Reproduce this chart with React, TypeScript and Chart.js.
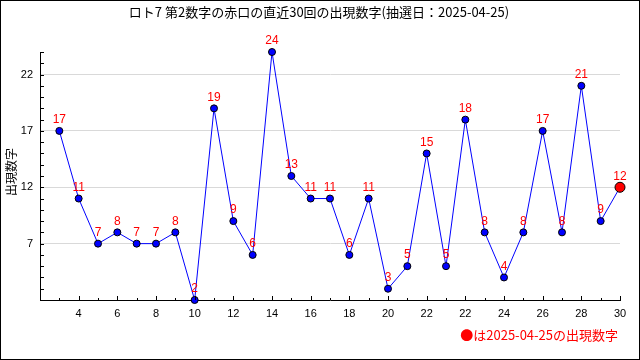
import React, { useEffect, useRef } from "react";
import { Chart, registerables } from "chart.js";

Chart.register(...registerables);

const titleText = "ロト7 第2数字の赤口の直近30回の出現数字(抽選日：2025-04-25)";
const yAxisTitle = "出現数字";
const noteText = "●は2025-04-25の出現数字";
const positions = [1, 2, 3, 4, 5, 6, 7, 8, 9, 10, 11, 12, 13, 14, 15, 16, 17, 18, 19, 20, 21, 22, 23, 24, 25, 26, 27, 28, 29, 30];
const values = [17, 11, 7, 8, 7, 7, 8, 2, 19, 9, 6, 24, 13, 11, 11, 6, 11, 3, 5, 15, 5, 18, 8, 4, 8, 17, 8, 21, 9, 12];
const xTickPositions = [2, 4, 6, 8, 10, 12, 14, 16, 18, 20, 22, 24, 26, 28, 30];
const xTickLabels = ["4", "6", "8", "10", "12", "14", "16", "18", "20", "22", "22", "24", "26", "28", "30"];
const yMajorTicks = [7, 12, 17, 22];

const decorPlugin = {
  id: "decor",
  afterDraw(chart: any) {
    const ctx = chart.ctx as CanvasRenderingContext2D;
    const xs = chart.scales.x;
    const ys = chart.scales.y;
    const area = chart.chartArea;
    ctx.save();
    // inner tick marks
    ctx.strokeStyle = "#000";
    ctx.lineWidth = 1;
    ctx.beginPath();
    for (let v = xs.min; v <= xs.max; v++) {
      const px = Math.round(xs.getPixelForValue(v)) + 0.5;
      const len = v % 2 === 0 ? 4 : 2;
      ctx.moveTo(px, area.bottom);
      ctx.lineTo(px, area.bottom - len);
    }
    for (let v = ys.min; v <= ys.max; v++) {
      const py = Math.round(ys.getPixelForValue(v)) + 0.5;
      ctx.moveTo(area.left, py);
      ctx.lineTo(area.left + 4, py);
    }
    ctx.stroke();

    // data labels
    const meta = chart.getDatasetMeta(0);
    ctx.fillStyle = "#ff0000";
    ctx.font = '12px "Liberation Sans"';
    ctx.textAlign = "center";
    ctx.textBaseline = "middle";
    meta.data.forEach((pt: any, i: number) => {
      ctx.fillText(String(values[i]), pt.x, pt.y - 11);
    });

    // title
    ctx.fillStyle = "#000";
    ctx.font = '13px "Noto Sans CJK JP"';
    ctx.textAlign = "center";
    ctx.fillText(titleText, 319, 12);

    // y-axis title
    ctx.save();
    ctx.translate(11, 172);
    ctx.rotate(-Math.PI / 2);
    ctx.font = '12px "Noto Sans CJK JP"';
    ctx.fillText(yAxisTitle, 0, 0);
    ctx.restore();

    // note
    ctx.fillStyle = "#ff0000";
    ctx.font = '13px "Noto Sans CJK JP"';
    ctx.textAlign = "right";
    ctx.fillText(noteText, 618, 335);

    // frame
    ctx.strokeStyle = "#000";
    ctx.lineWidth = 1;
    ctx.strokeRect(0.5, 0.5, 639, 359);
    ctx.restore();
  },
};

export default function App() {
  const ref = useRef<HTMLCanvasElement | null>(null);
  useEffect(() => {
    if (!ref.current) return;
    const last = values.length - 1;
    const chart = new Chart(ref.current, {
      type: "line",
      data: {
        datasets: [
          {
            data: positions.map((p, i) => ({ x: p, y: values[i] })),
            borderColor: "#0000ff",
            borderWidth: 1,
            tension: 0,
            pointRadius: values.map((_, i) => (i === last ? 5 : 3.5)),
            pointBackgroundColor: values.map((_, i) => (i === last ? "#ff0000" : "#0000ff")),
            pointBorderColor: "#000",
            pointBorderWidth: 1,
            clip: false as any,
          },
        ],
      },
      options: {
        animation: false,
        responsive: false,
        events: [],
        layout: { padding: { top: 52, right: 20, left: 0, bottom: 0 } },
        plugins: { legend: { display: false }, title: { display: false }, tooltip: { enabled: false } },
        scales: {
          x: {
            type: "linear",
            min: 0,
            max: 30,
            afterFit: (s: any) => {
              s.height = 60;
            },
            afterBuildTicks: (s: any) => {
              s.ticks = xTickPositions.map((v) => ({ value: v }));
            },
            ticks: {
              autoSkip: false,
              maxRotation: 0,
              padding: 7,
              color: "#000",
              font: { family: "Liberation Sans", size: 11 },
              callback: (v: any) => {
                const i = xTickPositions.indexOf(Number(v));
                return i >= 0 ? xTickLabels[i] : "";
              },
            },
            grid: { display: false, drawTicks: false },
            border: { display: true, color: "#000", width: 1 },
          },
          y: {
            type: "linear",
            min: 2,
            max: 24,
            afterFit: (s: any) => {
              s.width = 40;
            },
            afterBuildTicks: (s: any) => {
              s.ticks = yMajorTicks.map((v) => ({ value: v }));
            },
            ticks: {
              autoSkip: false,
              padding: 7,
              color: "#000",
              font: { family: "Liberation Sans", size: 11 },
              callback: (v: any) => String(v),
            },
            grid: { display: true, drawTicks: false, color: "#d9d9d9", lineWidth: 1 },
            border: { display: true, color: "#000", width: 1 },
          },
        },
      },
      plugins: [decorPlugin],
    });
    return () => chart.destroy();
  }, []);
  return (
    <div style={{ position: "fixed", left: 0, top: 0, width: 640, height: 360, background: "#fff" }}>
      <canvas ref={ref} width={640} height={360} style={{ display: "block" }} />
    </div>
  );
}
